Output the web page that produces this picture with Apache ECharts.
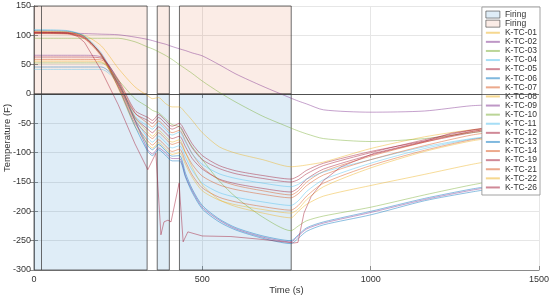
<!DOCTYPE html>
<html>
<head>
<meta charset="utf-8">
<script src="https://cdn.jsdelivr.net/npm/echarts@6/dist/echarts.min.js"></script>
<style>
  html, body { margin: 0; padding: 0; background: #fff; }
  #chart { width: 550px; height: 298px; }
</style>
</head>
<body>
<div id="chart"></div>
<script>
  // sample times (s) shared by most thermocouples
  const times = [0, 100, 150, 200, 250, 300, 338, 352, 370, 390, 410, 432, 450, 470, 500, 550, 600, 680, 763, 785, 810, 860, 1000, 1160, 1300, 1400];

  const tc01 = [105, 104, 100, 82, 44, 12, -3, -8, -6, -16, -22, -22, -32, -45, -66, -90, -101, -112, -124, -123, -121, -116, -93, -73, -61, -57];
  const tc02 = [104, 104, 103, 102, 101, 97, 93, 91, 88, 85, 81, 77, 74, 70, 65, 50, 34, 13, -7, -12, -17, -27, -31, -29, -20, -18];
  const tc03 = [95, 95, 95, 95, 95, 89, 80, 77, 72, 66, 59, 50, 43, 35, 22, 3, -14, -38, -58, -63, -68, -76, -81, -76, -66, -60];
  const tc04 = [42, 42, 42, 42, 18, -42, -75, -82, -72, -82, -92, -88, -108, -130, -152, -168, -176, -184, -190, -182, -166, -146, -118, -93, -77, -71];
  const tc05 = [104, 103, 95, 66, 16, -40, -60, -66, -56, -66, -76, -72, -90, -110, -128, -145, -153, -161, -167, -160, -145, -128, -104, -82, -66, -58];
  const tc06 = [46, 46, 46, 46, 20, -45, -88, -95, -86, -96, -106, -105, -135, -162, -190, -213, -228, -242, -250, -240, -228, -218, -200, -178, -162, -153];
  const tc07 = [59, 59, 59, 58, 22, -32, -50, -56, -46, -56, -66, -62, -80, -102, -125, -146, -156, -165, -172, -165, -150, -132, -106, -82, -64, -57];
  const tc08 = [107, 106, 98, 66, 10, -55, -85, -92, -83, -93, -103, -100, -120, -142, -165, -181, -189, -197, -203, -196, -180, -158, -126, -98, -80, -72];
  const tc09 = [66, 66, 66, 63, 22, -45, -95, -102, -92, -100, -110, -110, -140, -165, -193, -215, -230, -244, -252, -242, -230, -220, -202, -180, -164, -155];
  const tc10 = [53, 53, 53, 53, 24, -8, -22, -28, -32, -42, -52, -56, -72, -90, -112, -148, -176, -210, -233, -225, -216, -208, -193, -172, -155, -145];
  const tc11 = [110, 108, 99, 70, 20, -38, -55, -60, -50, -60, -70, -65, -82, -102, -120, -136, -144, -152, -158, -154, -145, -133, -112, -90, -76, -70];
  const tc12 = [63, 63, 63, 61, 25, -28, -40, -45, -35, -45, -55, -50, -65, -85, -105, -122, -131, -139, -145, -140, -130, -118, -98, -80, -64, -56];
  const tc13 = [108, 107, 98, 66, 12, -55, -98, -105, -95, -104, -114, -114, -142, -168, -196, -218, -232, -246, -255, -246, -234, -223, -206, -182, -167, -158];
  const tc14 = [106, 105, 97, 67, 15, -45, -70, -76, -66, -76, -86, -82, -100, -120, -140, -155, -163, -171, -177, -170, -156, -138, -112, -88, -70, -62];
  const tc21 = [103, 102, 94, 64, 12, -50, -80, -87, -78, -88, -98, -94, -115, -138, -160, -176, -184, -192, -198, -190, -174, -152, -122, -96, -78, -70];
  const tc22 = [56, 56, 56, 55, 20, -40, -65, -72, -62, -72, -82, -78, -100, -125, -155, -180, -192, -203, -211, -200, -188, -174, -156, -137, -120, -110];
  const tc26 = [105, 104, 96, 68, 18, -33, -45, -50, -40, -50, -60, -55, -72, -92, -112, -127, -136, -144, -150, -146, -136, -122, -100, -78, -62, -55];

  // K-TC-19 jumps around a lot, so it has its own times
  const tc19Times = [0, 100, 130, 150, 200, 250, 300, 338, 362, 377, 386, 398, 407, 431, 443, 457, 500, 585, 680, 772, 784, 802, 823, 861, 912, 1010, 1158, 1238, 1357, 1400];
  const tc19 = [104, 104, 98, 88, 40, -18, -85, -129, -101, -240, -218, -215, -218, -152, -252, -235, -242, -243, -248, -254, -253, -203, -175, -147, -124, -101, -81, -67, -56, -54];

  // firing windows (s)
  const firingStart = [0, 366, 432];
  const firingEnd = [336, 402, 764];
  const firingMark = 23;

  const yTicks = [-300, -250, -200, -150, -100, -50, 0, 50, 100, 150];
  const xTicks = [0, 500, 1000, 1500];

  const names = ['K-TC-01', 'K-TC-02', 'K-TC-03', 'K-TC-04', 'K-TC-05', 'K-TC-06', 'K-TC-07', 'K-TC-08', 'K-TC-09',
    'K-TC-10', 'K-TC-11', 'K-TC-12', 'K-TC-13', 'K-TC-14', 'K-TC-19', 'K-TC-21', 'K-TC-22', 'K-TC-26'];
  const values = [tc01, tc02, tc03, tc04, tc05, tc06, tc07, tc08, tc09, tc10, tc11, tc12, tc13, tc14, tc19, tc21, tc22, tc26];
  const colors = ['#EDB120', '#7E2F8E', '#77AC30', '#4DBEEE', '#A2142F', '#0072BD', '#D95319', '#EDB120', '#7E2F8E',
    '#77AC30', '#4DBEEE', '#A2142F', '#0072BD', '#D95319', '#A2142F', '#D95319', '#EDB120', '#A2142F'];

  const COLD = 'rgba(0,114,189,0.125)';
  const HOT = 'rgba(217,83,25,0.11)';
  const EDGE = 'rgba(60,60,60,0.75)';
  const AXIS = '#8a8a8a';
  const TEXT = '#333';

  let coldAreas = [], hotAreas = [];
  firingStart.forEach((s, i) => {
    coldAreas.push([{xAxis: s, yAxis: 0}, {xAxis: firingEnd[i], yAxis: yTicks[0]}]);
    hotAreas.push([{xAxis: s, yAxis: yTicks[yTicks.length - 1]}, {xAxis: firingEnd[i], yAxis: 0}]);
  });

  let series = [
    {
      name: 'Firing (cold)', type: 'bar', data: [], z: 1,
      itemStyle: {color: COLD, borderColor: EDGE, borderWidth: 0.8},
      markArea: {silent: true, itemStyle: {color: COLD, borderColor: EDGE, borderWidth: 1}, data: coldAreas}
    },
    {
      name: 'Firing (hot)', type: 'bar', data: [], z: 1,
      itemStyle: {color: HOT, borderColor: EDGE, borderWidth: 0.8},
      markArea: {silent: true, itemStyle: {color: HOT, borderColor: EDGE, borderWidth: 1}, data: hotAreas}
    },
    {
      // zero line and the first firing marker
      name: 'marks', type: 'line', data: [], z: 2,
      markLine: {
        silent: true, symbol: 'none', label: {show: false},
        lineStyle: {color: EDGE, width: 1, type: 'solid'},
        data: [
          [{coord: [xTicks[0], 0]}, {coord: [xTicks[xTicks.length - 1], 0]}],
          [{coord: [firingMark, yTicks[0]]}, {coord: [firingMark, yTicks[yTicks.length - 1]]}]
        ]
      }
    }
  ];

  names.forEach((n, i) => {
    const t = n === 'K-TC-19' ? tc19Times : times;
    series.push({
      name: n,
      type: 'line',
      z: 3,
      symbol: 'none',
      smooth: n === 'K-TC-19' ? false : 0.25,
      lineStyle: {width: 0.9, color: colors[i], opacity: 0.5},
      itemStyle: {color: colors[i]},
      data: t.map((x, k) => [x, values[i][k]])
    });
  });

  let legendData = [
    {name: 'Firing (cold)', icon: 'rect', itemStyle: {color: COLD, borderColor: EDGE, borderWidth: 0.8, opacity: 1}},
    {name: 'Firing (hot)', icon: 'rect', itemStyle: {color: HOT, borderColor: EDGE, borderWidth: 0.8, opacity: 1}}
  ].concat(names);

  const option = {
    animation: false,
    grid: {left: 34, right: 11, top: 6, bottom: 28, containLabel: false, outerBoundsMode: 'none'},
    legend: {
      orient: 'vertical', right: 10, top: 7,
      itemWidth: 14, itemHeight: 7, itemGap: 0,
      padding: [3, 3, 3, 3],
      backgroundColor: '#fff', borderColor: AXIS, borderWidth: 0.8,
      itemStyle: {opacity: 0},
      textStyle: {fontSize: 8.5, lineHeight: 9.1, color: TEXT, fontFamily: 'Liberation Sans'},
      formatter: name => name.indexOf('Firing') === 0 ? 'Firing' : name,
      data: legendData
    },
    xAxis: [{
      type: 'value', min: xTicks[0], max: xTicks[xTicks.length - 1], interval: 500,
      name: 'Time (s)', nameLocation: 'middle', nameGap: 15, nameMoveOverlap: false,
      nameTextStyle: {fontSize: 9.5, color: TEXT, fontFamily: 'Liberation Sans'},
      axisLine: {show: true, onZero: false, lineStyle: {color: AXIS}},
      axisTick: {show: true, inside: true, length: 4, lineStyle: {color: AXIS}},
      axisLabel: {fontSize: 9, color: TEXT, margin: 5, fontFamily: 'Liberation Sans', formatter: v => String(v)},
      splitLine: {show: true, lineStyle: {color: '#e6e6e6'}}
    }, {
      type: 'value', position: 'top', min: xTicks[0], max: xTicks[xTicks.length - 1], interval: 500,
      axisLine: {show: true, lineStyle: {color: AXIS}},
      axisTick: {show: true, inside: true, length: 4, lineStyle: {color: AXIS}},
      axisLabel: {show: false}, splitLine: {show: false}
    }],
    yAxis: [{
      type: 'value', min: yTicks[0], max: yTicks[yTicks.length - 1], interval: 50,
      name: 'Temperature (F)', nameLocation: 'middle', nameGap: 22, nameMoveOverlap: false,
      nameTextStyle: {fontSize: 9.5, color: TEXT, fontFamily: 'Liberation Sans'},
      axisLine: {show: true, onZero: false, lineStyle: {color: AXIS}},
      axisTick: {show: true, inside: true, length: 4, lineStyle: {color: AXIS}},
      axisLabel: {fontSize: 9, color: TEXT, margin: 3, fontFamily: 'Liberation Sans'},
      splitLine: {show: true, lineStyle: {color: '#e6e6e6'}}
    }, {
      type: 'value', position: 'right', min: yTicks[0], max: yTicks[yTicks.length - 1], interval: 50,
      axisLine: {show: true, lineStyle: {color: AXIS}},
      axisTick: {show: true, inside: true, length: 4, lineStyle: {color: AXIS}},
      axisLabel: {show: false}, splitLine: {show: false}
    }],
    series: series
  };

  echarts.init(document.getElementById('chart')).setOption(option);
</script>
</body>
</html>
